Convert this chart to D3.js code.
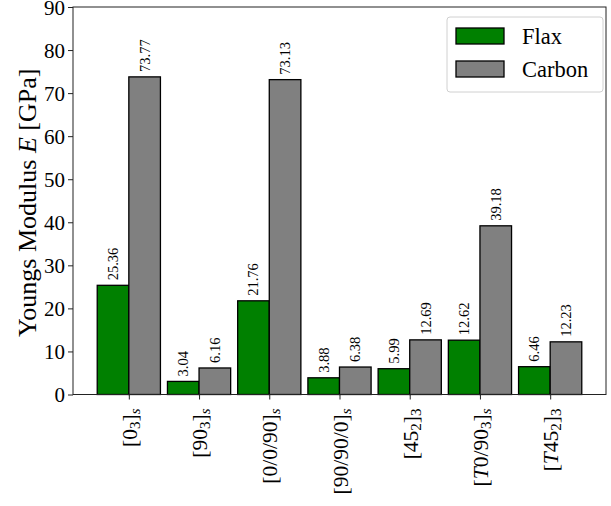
<!DOCTYPE html>
<html lang="en">
<head>
  <meta charset="UTF-8">
  <title>Youngs Modulus</title>
  <style>
    body { margin: 0; background: #fff; }
    text { font-family: 'Liberation Serif', 'DejaVu Serif', serif; }
  </style>
</head>
<body>
  <svg id="svg" width="611" height="506"></svg>
  <script src="https://cdn.jsdelivr.net/npm/d3@7"></script>
  <script>
    // layups: [base, base subscript, outer subscript, italic prefix]
    const layups = [
      ['0', '3', 's', ''],
      ['90', '3', 's', ''],
      ['0/0/90', '', 's', ''],
      ['90/90/0', '', 's', ''],
      ['45', '2', '3', ''],
      ['0/90', '3', 's', 'T'],
      ['45', '2', '3', 'T']
    ]
    const flax = [25.36, 3.04, 21.76, 3.88, 5.99, 12.62, 6.46]
    const carbon = [73.77, 6.16, 73.13, 6.38, 12.69, 39.18, 12.23]
    const yTicks = [0, 10, 20, 30, 40, 50, 60, 70, 80, 90]
    const seriesNames = ['Flax', 'Carbon']
    const seriesColors = ['#008000', '#808080']

    const svg = d3.select('#svg')
    const mLeft = 73, mRight = 606, mTop = 7, mBottom = 394.5
    const barW = 0.45

    const x = d3.scaleLinear().domain([-0.795, 6.795]).range([mLeft, mRight])
    const y = d3.scaleLinear().domain([0, 90]).range([mBottom, mTop])

    // bars
    const series = [flax, carbon]
    series.forEach((vals, si) => {
      const off = si === 0 ? -barW : 0
      svg.append('g')
        .selectAll('rect')
        .data(vals)
        .join('rect')
        .attr('x', (d, i) => x(i + off))
        .attr('y', d => y(d))
        .attr('width', x(barW) - x(0))
        .attr('height', d => y(0) - y(d))
        .attr('fill', seriesColors[si])
        .attr('stroke', '#000')
        .attr('stroke-width', 1.3)

      // value labels
      svg.append('g')
        .selectAll('text')
        .data(vals)
        .join('text')
        .attr('transform', (d, i) => `translate(${x(i + off + barW / 2)}, ${y(d) - 5}) rotate(-90)`)
        .attr('dominant-baseline', 'central')
        .attr('font-size', 14.5)
        .text(d => d.toFixed(2))
    })

    // axes
    const yAxis = d3.axisLeft(y).tickValues(yTicks).tickSize(5).tickPadding(3)
    const gy = svg.append('g').attr('transform', `translate(${mLeft},0)`).call(yAxis)
    gy.select('.domain').remove()
    gy.selectAll('text').attr('font-size', 21).attr('font-family', 'Liberation Serif').attr('fill', '#000').attr('dy', '0.35em')
    gy.selectAll('line').attr('stroke', '#222')

    const xAxis = d3.axisBottom(x).tickValues(d3.range(layups.length)).tickSize(5).tickFormat('')
    const gx = svg.append('g').attr('transform', `translate(0,${mBottom})`).call(xAxis)
    gx.select('.domain').remove()
    gx.selectAll('line').attr('stroke', '#222')

    // x tick labels with subscripts
    layups.forEach((l, i) => {
      const t = svg.append('text')
        .attr('transform', `translate(${x(i) + 1}, ${mBottom + 14}) rotate(-90)`)
        .attr('text-anchor', 'end')
        .attr('dominant-baseline', 'central')
        .attr('font-size', 21.5)
      t.append('tspan').text('[')
      if (l[3]) t.append('tspan').attr('font-style', 'italic').text(l[3])
      t.append('tspan').text(l[0])
      if (l[1]) {
        t.append('tspan').attr('font-size', 15).attr('dy', 5).text(l[1])
        t.append('tspan').attr('dy', -5).text(']')
      } else {
        t.append('tspan').text(']')
      }
      const isItal = l[2] === 's'
      t.append('tspan').attr('font-size', 15).attr('dy', 5)
        .attr('font-style', isItal ? 'italic' : 'normal').text(l[2])
    })

    // frame
    svg.append('rect')
      .attr('x', mLeft).attr('y', mTop)
      .attr('width', mRight - mLeft).attr('height', mBottom - mTop)
      .attr('fill', 'none').attr('stroke', '#222').attr('stroke-width', 1)

    // y label
    const yl = svg.append('text')
      .attr('transform', `translate(27, ${(mTop + mBottom) / 2 + 2}) rotate(-90)`)
      .attr('text-anchor', 'middle')
      .attr('dominant-baseline', 'central')
      .attr('font-size', 26)
    yl.append('tspan').text('Youngs Modulus ')
    yl.append('tspan').attr('font-style', 'italic').text('E')
    yl.append('tspan').text(' [GPa]')

    // legend
    const lg = svg.append('g').attr('transform', 'translate(447,17)')
    lg.append('rect').attr('width', 156).attr('height', 75).attr('rx', 3)
      .attr('fill', '#fff').attr('fill-opacity', 0.8).attr('stroke', '#d0d0d0')
    seriesNames.forEach((n, i) => {
      lg.append('rect').attr('x', 9).attr('y', 11 + i * 33).attr('width', 48).attr('height', 16)
        .attr('fill', seriesColors[i]).attr('stroke', '#000').attr('stroke-width', 1.3)
      lg.append('text').attr('x', 75).attr('y', 19 + i * 33)
        .attr('dominant-baseline', 'central').attr('font-size', 22.5).text(n)
    })
  </script>
</body>
</html>
